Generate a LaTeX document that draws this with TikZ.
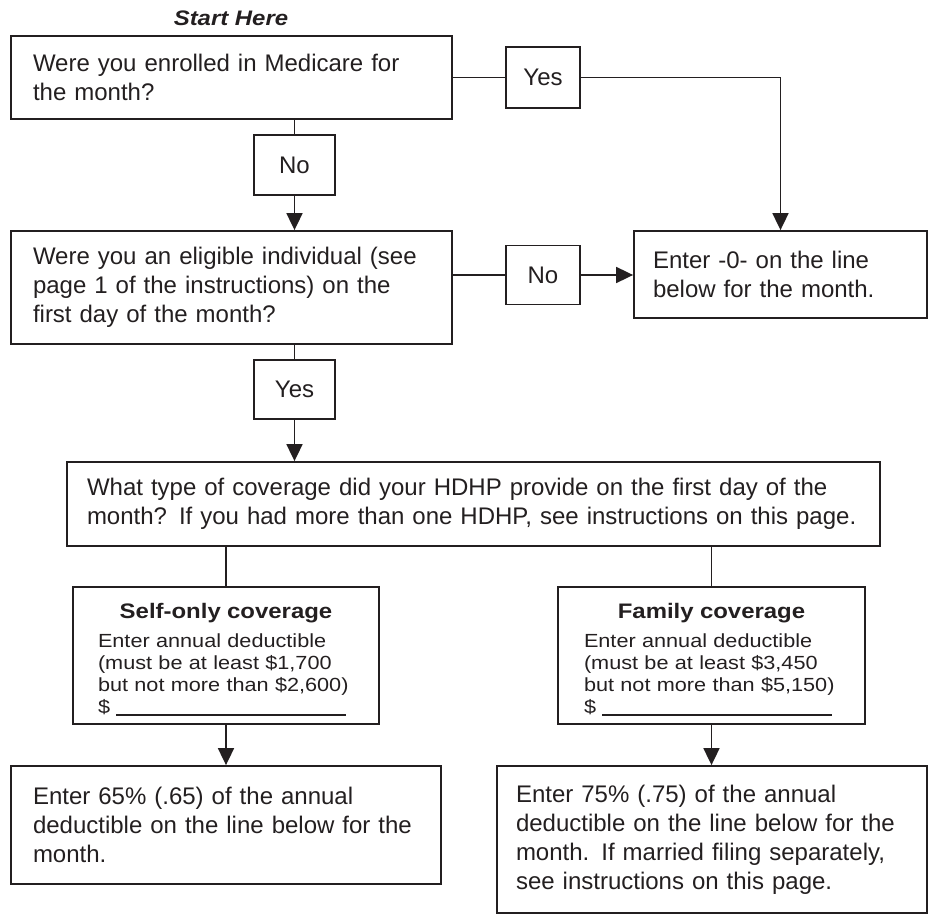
\documentclass[tikz,border=0pt]{standalone}
\usepackage{fontspec}
\setmainfont{Liberation Sans}
\newfontfamily\covfont{Liberation Sans}[FakeStretch=1.14]
\usetikzlibrary{arrows.meta}
\definecolor{ink}{RGB}{35,31,32}
\begin{document}
\begin{tikzpicture}[x=1pt,y=-1pt,
  every node/.style={text=ink},
  box/.style={draw=ink, line width=1.8pt, inner ysep=0pt, align=left,
    font=\fontsize{24}{29}\selectfont},
  covbox/.style={draw=ink, line width=1.8pt, inner ysep=0pt, align=left,
    font=\covfont\fontsize{19}{22}\selectfont},
  lab/.style={draw=ink, line width=1.8pt, inner sep=0pt,
    font=\fontsize{24}{29}\selectfont},
  conn/.style={draw=ink, line width=1.8pt},
  arr/.style={conn, -{Triangle[length=17pt,width=16pt]}}
]
\useasboundingbox (0,0) rectangle (935,918);

\node[anchor=base, font=\covfont\fontsize{21}{24}\selectfont\bfseries\itshape] (start) at (231,25) {Start Here};

\node[box, minimum width=441pt, minimum height=83pt, text width=397pt, inner xsep=22pt] (q1) at (231.5,77.5)
  {Were you enrolled in Medicare for\\the month?};
\node[lab, minimum width=74pt, minimum height=61pt] (yes1) at (543,77.5) {Yes};
\node[lab, minimum width=81pt, minimum height=60pt] (no1) at (294.5,165) {No};

\node[box, minimum width=441pt, minimum height=113pt, text width=397pt, inner xsep=22pt] (q2) at (231.5,287.5)
  {Were you an eligible individual (see\\page 1 of the instructions) on the\\first day of the month?};
\node[lab, minimum width=74pt, minimum height=59pt] (no2) at (543,275) {No};
\node[box, minimum width=293pt, minimum height=87pt, text width=255pt, inner xsep=19pt] (zero) at (780.5,274.5)
  {Enter -0- on the line\\below for the month.};
\node[lab, minimum width=81pt, minimum height=59pt] (yes2) at (294.5,389.5) {Yes};

\node[box, minimum width=813pt, minimum height=84pt, text width=773pt, inner xsep=20pt] (q3) at (473.5,504)
  {What type of coverage did your HDHP provide on the first day of the\\month? If you had more than one HDHP, see instructions on this page.};

\node[covbox, minimum width=306pt, minimum height=137pt, text width=256pt, inner xsep=25pt] (self) at (226,655.5)
  {\makebox[256pt]{\rule{0pt}{23pt}\fontsize{21}{22}\selectfont\bfseries Self-only coverage}\\[7pt]
   Enter annual deductible\\(must be at least \$1,700\\but not more than \$2,600)\\
   \$\hspace{6pt}\rule[-2pt]{230pt}{1.3pt}};
\node[covbox, minimum width=307pt, minimum height=137pt, text width=255pt, inner xsep=26pt] (fam) at (711.5,655.5)
  {\makebox[255pt]{\rule{0pt}{23pt}\fontsize{21}{22}\selectfont\bfseries Family coverage}\\[7pt]
   Enter annual deductible\\(must be at least \$3,450\\but not more than \$5,150)\\
   \$\hspace{6pt}\rule[-2pt]{230pt}{1.3pt}};

\node[box, minimum width=430pt, minimum height=118pt, text width=386pt, inner xsep=22pt] (r1) at (226,825)
  {Enter 65\% (.65) of the annual\\deductible on the line below for the\\month.};
\node[box, minimum width=430pt, minimum height=147pt, text width=392pt, inner xsep=19pt] (r2) at (712,839.5)
  {Enter 75\% (.75) of the annual\\deductible on the line below for the\\month. If married filing separately,\\see instructions on this page.};

% connectors
\draw[conn] (q1.east) -- (yes1.west);
\draw[arr] (yes1.east) -| (zero.north);
\draw[conn] (no1.north |- q1.south) -- (no1.north);
\draw[arr] (no1.south) -- (no1.south |- q2.north);
\draw[conn] (q2.east |- no2.west) -- (no2.west);
\draw[arr] (no2.east) -- (zero.west |- no2.east);
\draw[conn] (yes2.north |- q2.south) -- (yes2.north);
\draw[arr] (yes2.south) -- (yes2.south |- q3.north);
\draw[conn] (self.north |- q3.south) -- (self.north);
\draw[conn] (fam.north |- q3.south) -- (fam.north);
\draw[arr] (self.south) -- (r1.north);
\draw[arr] (fam.south) -- (fam.south |- r2.north);
\end{tikzpicture}
\end{document}
